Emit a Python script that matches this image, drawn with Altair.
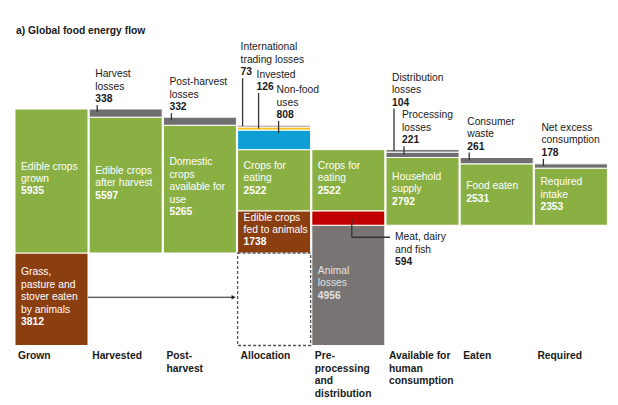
import altair as alt
import pandas as pd

# ---------------- data ----------------
stages = ["Grown", "Harvested", "Post-\nharvest", "Allocation",
          "Pre-\nprocessing\nand\ndistribution",
          "Available for\nhuman\nconsumption", "Eaten", "Required"]

seg_col = [0, 0, 1, 1, 2, 2, 3, 3, 3, 3, 3, 3, 4, 4, 4, 5, 5, 5, 6, 6, 7, 7]
seg_kind = ["brown", "green", "green", "loss", "green", "loss",
            "dashed", "brown", "green", "blue", "yellow", "loss",
            "animal", "red", "green", "green", "loss", "loss",
            "green", "loss", "green", "loss"]
seg_value = [3812, 5935, 5597, 338, 5265, 332,
             3812, 1738, 2522, 808, 126, 73,
             4956, 594, 2522, 2792, 221, 104,
             2531, 261, 2353, 178]
seg_label = ["Grass,\npasture and\nstover eaten\nby animals", "Edible crops\ngrown",
             "Edible crops\nafter harvest", "Harvest\nlosses",
             "Domestic\ncrops\navailable for\nuse", "Post-harvest\nlosses",
             "", "Edible crops\nfed to animals", "Crops for\neating", "Non-food\nuses",
             "Invested", "International\ntrading losses",
             "Animal\nlosses", "Meat, dairy\nand fish", "Crops for\neating",
             "Household\nsupply", "Processing\nlosses", "Distribution\nlosses",
             "Food eaten", "Consumer\nwaste", "Required\nintake", "Net excess\nconsumption"]

title_text = "a) Global food energy flow"

# ---------------- layout ----------------
W, H = 602, 394
STEP = 74.2            # px per column
K = 144 / 5935         # px per kcal unit
U = 1 / K              # units per px
Y0 = 245               # plot-y of zero
LH = 12.4              # line height px
FS = 10.3
FONT = "Liberation Sans"
BAR = 73 / STEP

xs = alt.Scale(domain=[-7 / STEP, (W - 7) / STEP], nice=False, zero=False)
ys = alt.Scale(domain=[-(H - Y0) * U, Y0 * U], nice=False, zero=False)

kinds = ["green", "brown", "loss", "animal", "blue", "yellow", "red"]
kind_colors = ["#8AB043", "#8B3E10", "#6F6F6F", "#787474", "#0E9FD6", "#F7C21C", "#C00000"]

# label offsets (px): right of column start, above segment top
note_layout = {
    "Harvest\nlosses": (6, 10),
    "Post-harvest\nlosses": (6, 10),
    "International\ntrading losses": (3, 53),
    "Invested": (19, 40),
    "Non-food\nuses": (39, 15),
    "Distribution\nlosses": (6, 47),
    "Processing\nlosses": (16, 12),
    "Consumer\nwaste": (7, 11),
    "Net excess\nconsumption": (7, 11),
}

# ---------------- build tables ----------------
grass = seg_value[0]
animal_loss = seg_value[12]
col_base = [-grass, 0, 0, -grass, -grass, animal_loss - grass, animal_loss - grass, animal_loss - grass]

rows = []
cum = {}
for c, k, v, l in zip(seg_col, seg_kind, seg_value, seg_label):
    b = cum.get(c, col_base[c])
    rows.append(dict(col=c, x=c, x2=c + BAR, y=b, y2=b + v, kind=k, label=l, value=str(v)))
    cum[c] = b + v
seg = pd.DataFrame(rows)

inside_rows, inside_num = [], []
note_rows, note_num, leaders = [], [], []
for r in rows:
    n = r["label"].count("\n") + 1
    if r["kind"] in ("green", "brown", "animal"):
        center = (r["y"] + r["y2"]) / 2 + 2 * U
        first = center + n / 2 * LH * U
        tc = "#E2E2E2" if r["kind"] == "animal" else "white"
        xpos = r["col"] + 6 / STEP
        inside_rows.append(dict(x=xpos, y=first, text=r["label"], tc=tc))
        inside_num.append(dict(x=xpos, y=first - n * LH * U, text=r["value"], tc=tc))
    elif r["label"] in note_layout:
        dx, lift = note_layout[r["label"]]
        top, bot = r["y2"], r["y"]
        num_v = top + lift * U
        xpos = r["col"] + dx / STEP
        note_rows.append(dict(x=xpos, y=num_v + n * LH * U, text=r["label"]))
        note_num.append(dict(x=xpos, y=num_v, text=r["value"]))
        h_px = (top - bot) * K
        end = top - min(3, h_px / 2) * U
        leaders.append(dict(x=r["col"] + (dx + 2) / STEP, x2=r["col"] + (dx + 2) / STEP,
                            y=num_v - 6 * U, y2=end))
    elif r["kind"] == "red":
        # meat, dairy and fish: elbow leader
        center = (r["y"] + r["y2"]) / 2
        elbow = r["y"] - 12 * U
        vx = r["col"] + 40 / STEP
        hx = r["col"] + 1 + 4 / STEP
        leaders.append(dict(x=vx, x2=vx, y=center, y2=elbow))
        leaders.append(dict(x=vx, x2=hx, y=elbow, y2=elbow))
        xpos = r["col"] + 1 + 9 / STEP
        note_rows.append(dict(x=xpos, y=elbow, text=r["label"]))
        note_num.append(dict(x=xpos, y=elbow - n * LH * U, text=r["value"]))

inside_df = pd.DataFrame(inside_rows)
inside_num_df = pd.DataFrame(inside_num)
note_df = pd.DataFrame(note_rows)
note_num_df = pd.DataFrame(note_num)
lead_df = pd.DataFrame(leaders)

grass_mid = -grass / 2 + 2 * U
arrow_df = pd.DataFrame([dict(x=BAR, x2=3 - 4 / STEP, y=grass_mid)])
head_df = pd.DataFrame([dict(x=3 - 4 / STEP, y=grass_mid)])

stage_df = pd.DataFrame(dict(x=[i + 3 / STEP for i in range(len(stages))],
                             y=[-grass - 11 * U] * len(stages), text=stages))
title_df = pd.DataFrame([dict(x=1 / STEP, y=(Y0 - 23) * U, text=title_text)])

X = lambda f="x": alt.X(f"{f}:Q", scale=xs, axis=None)
Y = lambda f="y": alt.Y(f"{f}:Q", scale=ys, axis=None)

bars = alt.Chart(seg).transform_filter("datum.kind != 'dashed'").mark_rect(
    stroke="white", strokeWidth=1).encode(
    x=X(), x2="x2:Q", y=Y(), y2="y2:Q",
    color=alt.Color("kind:N", scale=alt.Scale(domain=kinds, range=kind_colors), legend=None))

dashed = alt.Chart(seg).transform_filter("datum.kind == 'dashed'").mark_rect(
    fill="white", stroke="#555555", strokeWidth=1.3, strokeDash=[3, 2]).encode(
    x=X(), x2="x2:Q", y=Y(), y2="y2:Q")

txt_kw = dict(align="left", baseline="middle", font=FONT, fontSize=FS, lineBreak="\n", lineHeight=LH)

in_txt = alt.Chart(inside_df).mark_text(**txt_kw).encode(
    x=X(), y=Y(), text="text:N", color=alt.Color("tc:N", scale=None))
in_num = alt.Chart(inside_num_df).mark_text(fontWeight="bold", **txt_kw).encode(
    x=X(), y=Y(), text="text:N", color=alt.Color("tc:N", scale=None))

nt_txt = alt.Chart(note_df).mark_text(color="#1a1a1a", **txt_kw).encode(
    x=X(), y=Y(), text="text:N")
nt_num = alt.Chart(note_num_df).mark_text(color="#1a1a1a", fontWeight="bold", **txt_kw).encode(
    x=X(), y=Y(), text="text:N")

lead = alt.Chart(lead_df).mark_rule(color="#333333", strokeWidth=1.3).encode(
    x=X(), x2="x2:Q", y=Y(), y2="y2:Q")

arrow = alt.Chart(arrow_df).mark_rule(color="#222222", strokeWidth=1.2).encode(
    x=X(), x2="x2:Q", y=Y())
head = alt.Chart(head_df).mark_point(shape="triangle-right", filled=True, size=22,
                                      color="#222222", opacity=1).encode(x=X(), y=Y())

stage_txt = alt.Chart(stage_df).mark_text(color="#1a1a1a", fontWeight="bold", **txt_kw).encode(
    x=X(), y=Y(), text="text:N")
title = alt.Chart(title_df).mark_text(color="#1a1a1a", fontWeight="bold", **txt_kw).encode(
    x=X(), y=Y(), text="text:N")

chart = alt.layer(bars, dashed, lead, arrow, head, in_txt, in_num, nt_txt, nt_num,
                  stage_txt, title).properties(
    width=W, height=H, autosize=alt.AutoSizeParams(type="none"), padding=0
).configure_view(stroke=None)

chart.save("out.html", embed_options={"renderer": "svg", "actions": False})
